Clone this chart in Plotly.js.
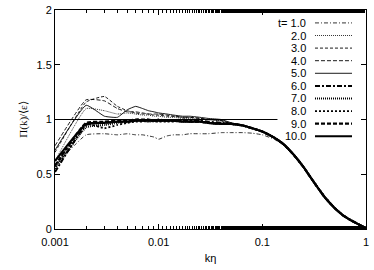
<!DOCTYPE html>
<html>
<head>
<meta charset="utf-8">
<script src="https://cdn.plot.ly/plotly-3.0.1.min.js"></script>
<style>html,body{margin:0;padding:0;background:#fff;}#plot{width:374px;height:270px;}</style>
</head>
<body>
<div id="plot"></div>
<script>
// wavenumber k*eta
const kEta = [0.001,0.002,0.003,0.004,0.005,0.006,0.007,0.008,0.009,0.010,0.012,0.014,0.017,0.02,0.025,0.03,0.04,0.05,0.065,0.08,0.1,0.13,0.16,0.2,0.25,0.3,0.4,0.5,0.6,0.7,0.8,0.9,1.0];

const seriesNames = ['t= 1.0','2.0','3.0','4.0','5.0','6.0','7.0','8.0','9.0','10.0'];

const t1  = [0.58,0.86,0.87,0.86,0.87,0.86,0.86,0.85,0.84,0.82,0.85,0.86,0.86,0.87,0.87,0.87,0.88,0.88,0.88,0.875,0.86,0.82,0.765,0.675,0.56,0.45,0.29,0.19,0.125,0.085,0.055,0.03,0.01];
const t2  = [0.62,1.10,1.08,1.05,1.06,1.05,1.04,1.04,1.03,1.03,1.02,1.02,1.01,1.01,1.00,1.00,0.99,0.97,0.945,0.92,0.89,0.835,0.775,0.68,0.565,0.455,0.29,0.19,0.125,0.085,0.055,0.03,0.01];
const t3  = [0.70,1.16,1.21,1.12,1.08,1.06,1.05,1.05,1.04,1.04,1.03,1.03,1.02,1.02,1.01,1.00,0.99,0.96,0.945,0.92,0.89,0.835,0.775,0.68,0.565,0.455,0.29,0.19,0.125,0.085,0.055,0.03,0.01];
const t4  = [0.76,1.18,1.17,1.10,1.07,1.07,1.06,1.05,1.05,1.05,1.04,1.03,1.02,1.02,1.01,1.00,0.99,0.96,0.945,0.92,0.89,0.835,0.775,0.68,0.565,0.455,0.29,0.19,0.125,0.085,0.055,0.03,0.01];
const t5  = [0.72,1.13,1.03,1.02,1.09,1.12,1.10,1.08,1.07,1.06,1.05,1.04,1.03,1.03,1.02,1.01,1.00,0.97,0.945,0.92,0.89,0.835,0.775,0.68,0.565,0.455,0.29,0.19,0.125,0.085,0.055,0.03,0.01];
const t6  = [0.52,0.95,0.97,0.98,0.98,0.99,0.99,0.99,0.99,1.00,0.99,0.99,1.00,0.99,0.99,0.98,0.97,0.96,0.945,0.92,0.89,0.835,0.775,0.68,0.565,0.455,0.29,0.19,0.125,0.085,0.055,0.03,0.01];
const t7  = [0.55,0.93,0.95,0.97,0.98,0.99,0.99,0.98,0.99,0.99,0.99,0.99,0.98,0.98,0.98,0.97,0.96,0.96,0.945,0.92,0.89,0.835,0.775,0.68,0.565,0.455,0.29,0.19,0.125,0.085,0.055,0.03,0.01];
const t8  = [0.57,0.96,0.92,0.95,0.97,0.98,0.98,0.99,0.98,0.98,0.98,0.98,0.99,0.98,0.98,0.97,0.96,0.96,0.945,0.92,0.89,0.835,0.775,0.68,0.565,0.455,0.29,0.19,0.125,0.085,0.055,0.03,0.01];
const t9  = [0.58,0.97,0.98,0.99,0.99,1.00,1.00,1.00,0.99,0.99,0.99,0.99,0.99,0.98,0.98,0.97,0.96,0.96,0.945,0.92,0.89,0.835,0.775,0.68,0.565,0.455,0.29,0.19,0.125,0.085,0.055,0.03,0.01];
const t10 = [0.62,0.96,0.97,0.98,0.98,0.99,0.99,0.99,0.99,0.99,0.99,0.99,0.98,0.98,0.98,0.97,0.96,0.96,0.945,0.92,0.89,0.835,0.775,0.68,0.565,0.455,0.29,0.19,0.125,0.085,0.055,0.03,0.01];

// reference line Pi/<eps> = 1
const refK = [0.001, 0.14];
const refVal = [1, 1];

const xTickVals = [0.001, 0.01, 0.1, 1];
const xTickText = ['0.001', '0.01', '0.1', '1'];
const yTickVals = [0, 0.5, 1, 1.5, 2];
const yTickText = ['0', '0.5', '1', '1.5', '2'];

const seriesValues = [t1,t2,t3,t4,t5,t6,t7,t8,t9,t10];
const styles = [
  {dash:'4px,2px,1px,2px', width:0.8},
  {dash:'1px,1px', width:0.8},
  {dash:'3px,2px', width:0.9},
  {dash:'4px,2px', width:0.9},
  {dash:'solid', width:0.9},
  {dash:'5px,2px,2px,2px', width:2.0},
  {dash:'1px,1px', width:2.2},
  {dash:'2px,2px', width:1.8},
  {dash:'4px,2px', width:2.2},
  {dash:'solid', width:2.2}
];

const traces = [{
  x: refK, y: refVal, mode:'lines', line:{color:'#000', width:1}, showlegend:false, hoverinfo:'skip'
}];
seriesValues.forEach((vals, i) => {
  traces.push({
    x: kEta, y: vals, mode:'lines', name: seriesNames[i],
    line:{color:'#000', width:styles[i].width, dash:styles[i].dash, shape:'spline', smoothing:0.4},
    showlegend:false
  });
});

// gnuplot-style key: label then sample line
const annotations = [];
const shapes = [];
const row0 = 0.941, rowStep = 0.0575;
seriesNames.forEach((nm, i) => {
  const yy = row0 - i * rowStep;
  annotations.push({xref:'paper', yref:'paper', x:0.813, y:yy, xanchor:'right', yanchor:'middle',
    text:nm, showarrow:false, font:{family:'Liberation Sans, Arial, sans-serif', size:11, color:'#000'}});
  shapes.push({type:'line', xref:'paper', yref:'paper', x0:0.836, x1:0.955, y0:yy, y1:yy,
    line:{color:'#000', width:styles[i].width, dash:styles[i].dash}});
});

const layout = {
  width:374, height:270,
  margin:{l:55, r:8, t:10, b:41},
  paper_bgcolor:'#fff', plot_bgcolor:'#fff',
  font:{family:'Liberation Sans, Arial, sans-serif', size:11, color:'#000'},
  showlegend:false,
  xaxis:{
    type:'log', range:[-3, 0],
    tickvals:xTickVals, ticktext:xTickText,
    ticks:'inside', ticklen:5, tickwidth:1, tickcolor:'#000',
    ticklabelstandoff:3,
    minor:{ticks:'inside', ticklen:3, tickwidth:1, tickcolor:'#000', showgrid:false},
    showline:true, linecolor:'#000', linewidth:1, mirror:'allticks',
    showgrid:false, zeroline:false,
    title:{text:'kη', standoff:7, font:{family:'Liberation Sans, Arial, sans-serif', size:11}}
  },
  yaxis:{
    range:[0, 2],
    tickvals:yTickVals, ticktext:yTickText,
    ticks:'inside', ticklen:5, tickwidth:1, tickcolor:'#000',
    showline:true, linecolor:'#000', linewidth:1, mirror:'allticks',
    showgrid:false, zeroline:false,
    title:{text:'Π(k)/⟨ε⟩', standoff:6, font:{family:'Liberation Serif, Times New Roman, serif', size:11}}
  },
  annotations: annotations,
  shapes: shapes
};

Plotly.newPlot('plot', traces, layout, {staticPlot:true, displayModeBar:false});
</script>
</body>
</html>
